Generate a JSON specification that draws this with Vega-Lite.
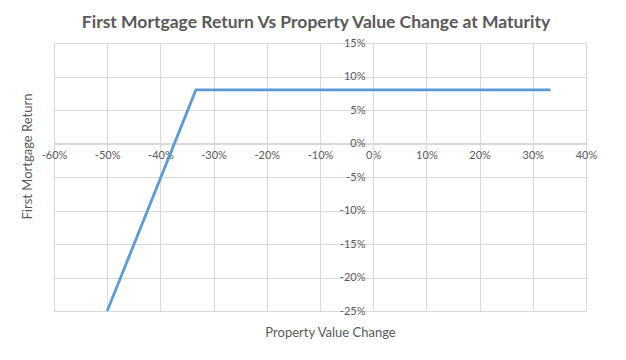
{
  "$schema": "https://vega.github.io/schema/vega-lite/v6.json",
  "width": 532,
  "height": 268,
  "autosize": "none",
  "padding": {"left": 54, "top": 43, "right": 40, "bottom": 49},
  "background": "white",
  "config": {"view": {"stroke": null}, "font": "Lato"},
  "title": {
    "text": "First Mortgage Return Vs Property Value Change at Maturity",
    "font": "Lato",
    "fontSize": 17.5,
    "fontWeight": "bold",
    "color": "#595959",
    "anchor": "middle",
    "dx": -4,
    "offset": 6
  },
  "data": {
    "values": [
      {"change": -0.5, "ret": -0.25},
      {"change": -0.3333, "ret": 0.08},
      {"change": 0.3333, "ret": 0.08}
    ]
  },
  "mark": {"type": "line", "color": "#5b9bd5", "strokeWidth": 2.75},
  "encoding": {
    "x": {
      "field": "change",
      "type": "quantitative",
      "scale": {"domain": [-0.6, 0.4], "nice": false, "zero": false},
      "axis": {
        "format": ".0%",
        "labelExpr": "replace(datum.label, '\u2212', '-')",
        "values": [-0.6, -0.5, -0.4, -0.3, -0.2, -0.1, 0, 0.1, 0.2, 0.3, 0.4],
        "offset": -168,
        "grid": true,
        "gridColor": "#d9d9d9",
        "domainColor": "#d9d9d9",
        "ticks": false,
        "labelFlush": false,
        "labelColor": "#595959",
        "labelFontSize": 11,
        "labelPadding": 6,
        "title": "Property Value Change",
        "titleX": 276,
        "titleY": 189,
        "titleBaseline": "middle",
        "titleFontWeight": "normal",
        "titleColor": "#595959",
        "titleFontSize": 13
      }
    },
    "y": {
      "field": "ret",
      "type": "quantitative",
      "scale": {"domain": [-0.25, 0.15], "nice": false, "zero": false},
      "axis": {
        "format": ".0%",
        "labelExpr": "replace(datum.label, '\u2212', '-')",
        "values": [-0.25, -0.2, -0.15, -0.1, -0.05, 0, 0.05, 0.1, 0.15],
        "offset": -319,
        "grid": true,
        "gridColor": "#d9d9d9",
        "domainColor": "#d9d9d9",
        "ticks": false,
        "labelFlush": false,
        "labelColor": "#595959",
        "labelFontSize": 11,
        "labelPadding": 8,
        "title": "First Mortgage Return",
        "titleX": -346,
        "titleY": 113,
        "titleBaseline": "middle",
        "titleFontWeight": "normal",
        "titleColor": "#595959",
        "titleFontSize": 13
      }
    }
  }
}
